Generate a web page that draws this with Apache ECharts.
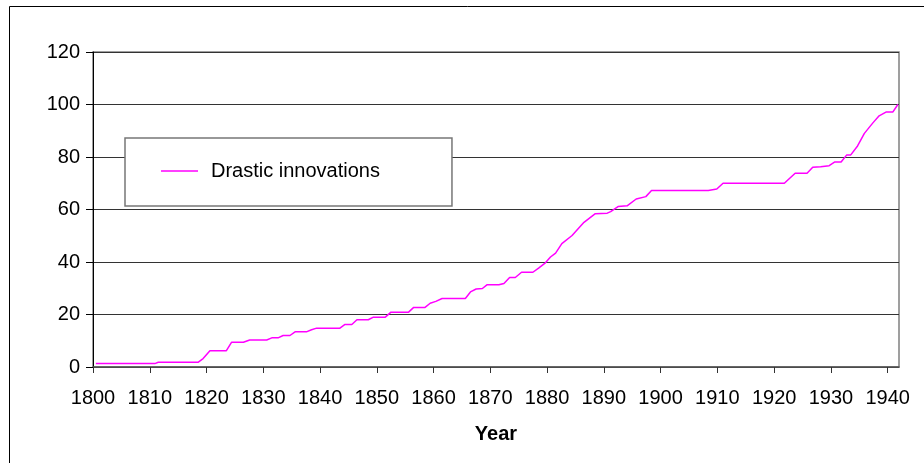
<!DOCTYPE html>
<html>
<head>
<meta charset="utf-8">
<script src="https://cdn.jsdelivr.net/npm/echarts@6/dist/echarts.min.js"></script>
<style>
html,body{margin:0;padding:0;background:#fff;}
#c{width:924px;height:463px;}
</style>
</head>
<body>
<div id="c"></div>
<script>
// Data
const seriesName = 'Drastic innovations';
const years = [
  1800.5, 1810.9, 1811.5, 1818.5, 1819.4, 1820.6, 1823.5, 1824.4, 1826.5, 1827.6,
  1830.6, 1831.5, 1832.6, 1833.5, 1834.7, 1835.6, 1837.6, 1838.5, 1839.4, 1843.5,
  1844.4, 1845.6, 1846.5, 1848.5, 1849.4, 1851.5, 1852.5, 1855.6, 1856.5, 1858.5,
  1859.4, 1860.4, 1861.5, 1865.6, 1866.5, 1867.5, 1868.6, 1869.4, 1871.5, 1872.4,
  1873.4, 1874.4, 1875.5, 1877.5, 1878.5, 1879.7, 1880.6, 1881.5, 1882.6, 1884.4,
  1886.5, 1888.5, 1890.6, 1891.2, 1892.5, 1894.1, 1895.7, 1897.4, 1898.4, 1908.4,
  1909.9, 1911.0, 1921.8, 1923.7, 1925.8, 1926.8, 1928.2, 1929.7, 1930.7, 1931.8,
  1932.8, 1933.5, 1934.7, 1935.9, 1937.4, 1938.5, 1939.7, 1940.9, 1941.8
];
const values = [
  1.3, 1.3, 1.8, 1.8, 3.2, 6.2, 6.2, 9.4, 9.4, 10.3,
  10.3, 11.1, 11.1, 12.0, 12.0, 13.4, 13.4, 14.2, 14.8, 14.8,
  16.2, 16.2, 18.0, 18.0, 19.0, 19.0, 20.9, 20.9, 22.7, 22.7,
  24.3, 25.0, 26.1, 26.1, 28.6, 29.7, 29.9, 31.3, 31.3, 31.8,
  34.1, 34.1, 36.1, 36.1, 37.7, 39.7, 41.9, 43.4, 47.0, 50.1,
  55.1, 58.4, 58.6, 59.2, 61.1, 61.4, 64.0, 64.9, 67.2, 67.2,
  67.8, 70.0, 70.0, 73.8, 73.8, 76.1, 76.3, 76.7, 78.1, 78.1,
  80.8, 80.8, 84.2, 89.0, 93.0, 95.7, 97.1, 97.1, 100.0
];
const xTicks = [1800, 1810, 1820, 1830, 1840, 1850, 1860, 1870, 1880, 1890, 1900, 1910, 1920, 1930, 1940];
const yTicks = [0, 20, 40, 60, 80, 100, 120];

const font = 'Liberation Sans, Arial, sans-serif';
const chart = echarts.init(document.getElementById('c'), null, {renderer: 'canvas'});
chart.setOption({
  animation: false,
  backgroundColor: '#fff',
  graphic: [{
    type: 'rect',
    shape: {x: 9.5, y: 6.5, width: 960, height: 500},
    style: {fill: 'none', stroke: '#000', lineWidth: 1},
    z: 100, silent: true
  }],
  grid: {
    left: 93, right: 25, top: 52, bottom: 96,
    show: true, borderColor: '#808080', borderWidth: 1.5, backgroundColor: '#fff'
  },
  legend: {
    left: 125, top: 138,
    orient: 'horizontal',
    data: [seriesName],
    icon: 'rect',
    itemWidth: 37, itemHeight: 1.5,
    padding: [15, 72, 17, 36],
    borderColor: '#777', borderWidth: 1.5, backgroundColor: '#fff',
    textStyle: {fontFamily: font, fontSize: 20, color: '#000', padding: [0, 0, 14, 8], lineHeight: 22}
  },
  xAxis: {
    type: 'value', min: 1800, max: 1942,
    name: 'Year', nameLocation: 'middle', nameGap: 57,
    nameTextStyle: {fontFamily: font, fontSize: 20, fontWeight: 'bold', color: '#000'},
    axisLine: {show: true, lineStyle: {color: '#555', width: 1.5}},
    axisTick: {show: true, length: 6, lineStyle: {color: '#333'}, customValues: xTicks},
    axisLabel: {fontFamily: font, fontSize: 20, color: '#000', margin: 21, customValues: xTicks,
      formatter: v => String(v)},
    splitLine: {show: false}
  },
  yAxis: {
    type: 'value', min: 0, max: 120, interval: 20,
    axisLine: {show: true, lineStyle: {color: '#000', width: 1}},
    axisTick: {show: true, length: 7, inside: false, lineStyle: {color: '#000'}},
    axisLabel: {fontFamily: font, fontSize: 20, color: '#000', margin: 13, customValues: yTicks},
    splitLine: {show: true, lineStyle: {color: '#333', width: 1}}
  },
  series: [{
    name: seriesName,
    type: 'line',
    data: years.map((y, i) => [y, values[i]]),
    symbol: 'none',
    lineStyle: {color: '#ff00ff', width: 1.5},
    itemStyle: {color: '#ff00ff'}
  }]
});
</script>
</body>
</html>
